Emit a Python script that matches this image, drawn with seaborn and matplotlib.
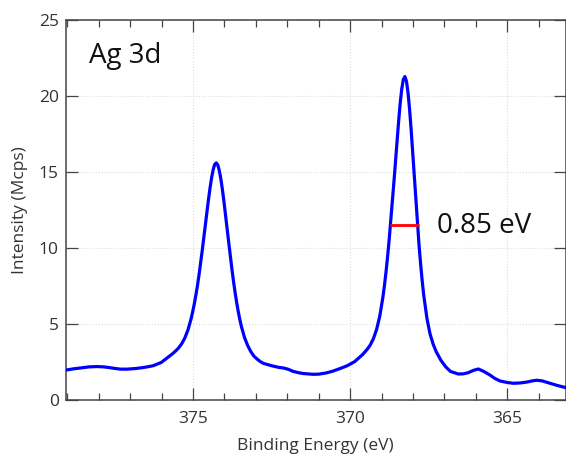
import matplotlib
matplotlib.use("Agg")
import matplotlib.pyplot as plt
import seaborn as sns
from matplotlib.ticker import MultipleLocator

# Binding energy (eV) and intensity (Mcps)
energy = [379.04, 378.80, 378.58, 378.30, 378.05, 377.85, 377.69, 377.50,
          377.31, 377.10, 376.83, 376.60, 376.40, 376.26, 376.01, 375.76,
          375.66, 375.56, 375.46, 375.36, 375.26, 375.16, 375.06, 375.01,
          374.96, 374.91, 374.86, 374.81, 374.76, 374.71, 374.66, 374.61,
          374.56, 374.51, 374.46, 374.41, 374.36, 374.31, 374.26, 374.21,
          374.16, 374.11, 374.06, 374.01, 373.96, 373.91, 373.86, 373.81,
          373.76, 373.71, 373.66, 373.61, 373.56, 373.51, 373.46, 373.36,
          373.26, 373.16, 373.06, 372.96, 372.86, 372.76, 372.51, 372.26,
          372.13, 371.97, 371.81, 371.65, 371.49, 371.18, 371.00, 370.76,
          370.55, 370.32, 370.10, 369.86, 369.61, 369.46, 369.36, 369.26,
          369.16, 369.06, 368.96, 368.91, 368.86, 368.81, 368.76, 368.71,
          368.66, 368.61, 368.56, 368.51, 368.46, 368.41, 368.36, 368.31,
          368.26, 368.21, 368.16, 368.11, 368.06, 368.01, 367.96, 367.91,
          367.86, 367.81, 367.76, 367.71, 367.66, 367.56, 367.46, 367.36,
          367.26, 367.11, 366.96, 366.81, 366.66, 366.56, 366.40, 366.24,
          366.08, 365.92, 365.75, 365.55, 365.40, 365.23, 365.00, 364.81,
          364.60, 364.38, 364.20, 364.07, 363.90, 363.64, 363.40, 363.13]
intensity = [1.97, 2.05, 2.11, 2.18, 2.20, 2.18, 2.14, 2.08,
             2.03, 2.03, 2.07, 2.13, 2.20, 2.26, 2.47, 2.87,
             3.03, 3.21, 3.42, 3.70, 4.08, 4.61, 5.35, 5.81,
             6.31, 6.88, 7.51, 8.21, 8.98, 9.78, 10.62, 11.48,
             12.34, 13.16, 13.92, 14.60, 15.14, 15.50, 15.60, 15.46,
             15.06, 14.49, 13.77, 12.96, 12.09, 11.19, 10.29, 9.41,
             8.58, 7.78, 7.06, 6.40, 5.81, 5.29, 4.83, 4.10,
             3.58, 3.18, 2.88, 2.69, 2.53, 2.41, 2.26, 2.14,
             2.11, 2.02, 1.88, 1.80, 1.74, 1.69, 1.70, 1.78,
             1.90, 2.07, 2.25, 2.52, 2.98, 3.33, 3.62, 4.04,
             4.64, 5.50, 6.75, 7.53, 8.42, 9.42, 10.54, 11.78,
             13.00, 14.30, 15.65, 17.00, 18.30, 19.50, 20.45, 21.08,
             21.28, 20.98, 20.22, 19.12, 17.76, 16.24, 14.66, 13.10,
             11.59, 10.21, 8.97, 7.86, 6.90, 5.40, 4.35, 3.67,
             3.16, 2.60, 2.18, 1.88, 1.78, 1.71, 1.72, 1.80,
             1.95, 2.04, 1.88, 1.64, 1.42, 1.25, 1.15, 1.10,
             1.12, 1.18, 1.26, 1.30, 1.26, 1.10, 0.95, 0.81]

# FWHM marker of the Ag 3d5/2 peak
fwhm_energy = [368.70, 367.85]
fwhm_level = [11.5, 11.5]
fwhm_label = "0.85 eV"
fwhm_label_pos = (367.23, 10.99)

panel_label = "Ag 3d"
x_ticks = [375, 370, 365]
y_ticks = [0, 5, 10, 15, 20, 25]

sns.set_theme(style="ticks")
plt.rcParams['font.family'] = ['Open Sans', 'DejaVu Sans']

fig = plt.figure(figsize=(5.66, 4.69), dpi=100)
ax = fig.add_axes([65.7 / 566, 69 / 469, 499.8 / 566, 380 / 469])

sns.lineplot(x=energy, y=intensity, ax=ax, color='#0000ff', linewidth=2.3,
             estimator=None, sort=False, zorder=3, solid_joinstyle='round')
sns.lineplot(x=fwhm_energy, y=fwhm_level, ax=ax, color='#ff0000', linewidth=2.0,
             estimator=None, sort=False, zorder=4)

ax.set_xlim(379.05, 363.15)
ax.set_ylim(0, 25)
ax.set_xticks(x_ticks)
ax.set_yticks(y_ticks)
ax.xaxis.set_minor_locator(MultipleLocator(1))

ax.grid(True, which='major', linestyle=':', color='#dddddd', linewidth=0.8)
ax.set_axisbelow(True)

ax.tick_params(axis='both', which='major', direction='in', length=8.4, width=0.9,
               color='#444444', labelsize=12.5, labelcolor='#333333',
               top=True, right=True)
ax.tick_params(axis='x', which='major', pad=8)
ax.tick_params(axis='y', which='major', pad=5)
ax.tick_params(axis='x', which='minor', direction='in', length=4.8, width=0.9,
               color='#444444', top=True, bottom=True)
for s in ax.spines.values():
    s.set_color('#444444')
    s.set_linewidth(1.1)

ax.set_xlabel("Binding Energy (eV)", fontsize=12.5, color='#333333', labelpad=8)
ax.set_ylabel("Intensity (Mcps)", fontsize=12.5, color='#333333', labelpad=8)

ax.text(0.047, 0.887, panel_label, transform=ax.transAxes, fontsize=20,
        color='#111111', va='baseline', ha='left')
ax.text(fwhm_label_pos[0], fwhm_label_pos[1], fwhm_label, fontsize=20,
        color='#111111', va='baseline', ha='left')

fig.savefig("out.png", dpi=100)
